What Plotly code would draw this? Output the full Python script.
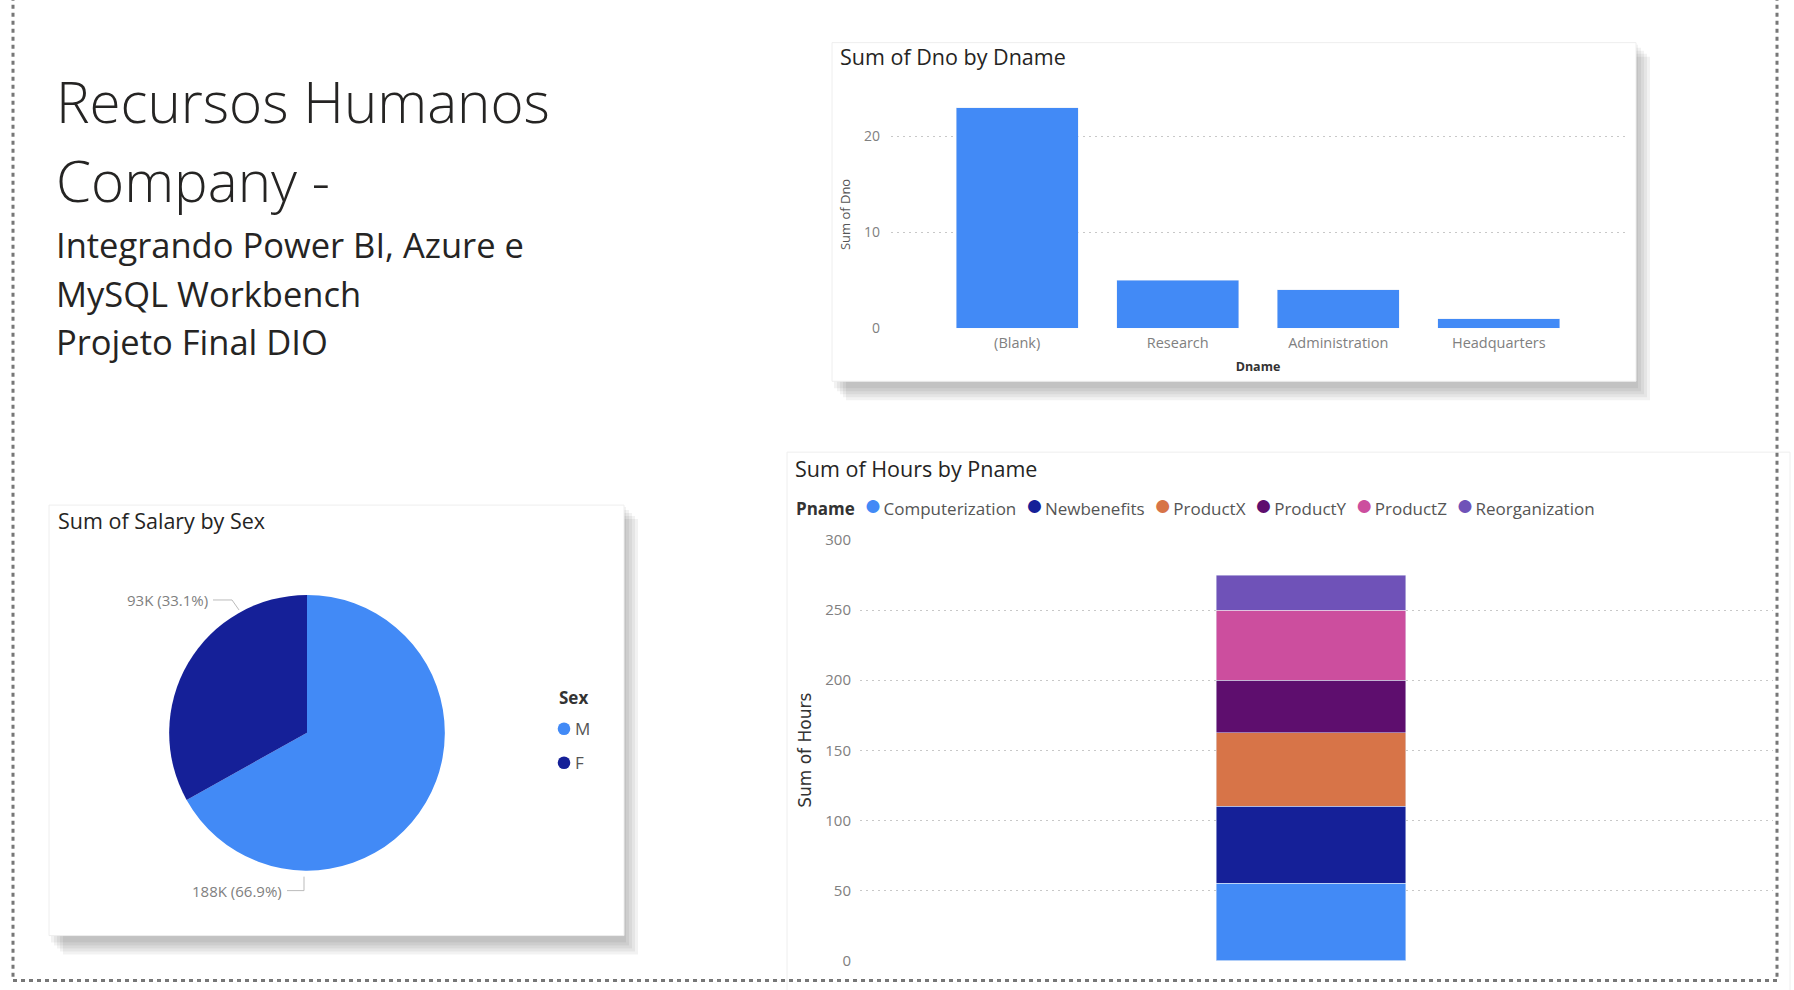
import plotly.graph_objects as go

W, H = 1794, 990

# ---------------- data ----------------
dept_names = ["(Blank)", "Research", "Administration", "Headquarters"]
dept_dno = [23, 5, 4, 1]

sex_labels = ["M", "F"]
sex_salary = [188000, 93000]

proj_names = ["Computerization", "Newbenefits", "ProductX", "ProductY", "ProductZ", "Reorganization"]
proj_hours = [55, 55, 52.5, 37.5, 50, 25]

title_lines = ["Recursos Humanos", "Company -"]
subtitle_lines = ["Integrando Power BI, Azure e", "MySQL Workbench", "Projeto Final DIO"]

# ---------------- styles ----------------
sex_colors = ["#428AF6", "#152098"]
proj_colors = ["#428AF6", "#152098", "#D77448", "#5E0E6E", "#CC4E9E", "#6F52B8"]
FONT = "Open Sans"
NBSP = "\u00a0"
HAIR = "\u200a"

# vertical calibration of the rendered page
Y_OFF, Y_SCALE = 10.3, 0.981


def px(x):
    return x / W


def py(y):
    return 1 - ((y - Y_OFF) / Y_SCALE) / H


fig = go.Figure()

# Bar chart: Sum of Dno by Dname
fig.add_trace(go.Bar(
    x=list(range(len(dept_names))), y=dept_dno, marker_color="#428AF6",
    width=0.76, showlegend=False, xaxis="x", yaxis="y",
    hovertemplate="%{customdata}: %{y}<extra></extra>", customdata=dept_names,
))

# Stacked bar: Sum of Hours by Pname
for name, val, col in zip(proj_names, proj_hours, proj_colors):
    fig.add_trace(go.Bar(
        x=[0], y=[val], name=name, marker_color=col, width=0.208,
        showlegend=False, xaxis="x2", yaxis="y2",
    ))

# Pie: Sum of Salary by Sex
fig.add_trace(go.Pie(
    labels=sex_labels, values=sex_salary, sort=False, direction="clockwise",
    rotation=0, marker=dict(colors=sex_colors), textinfo="none",
    showlegend=False,
    domain=dict(x=[px(169), px(445)], y=[py(871), py(595)]),
))

# ---------------- cards / frame shapes ----------------
shapes = []


def card(x0, y0, x1, y1, shadow=True):
    if shadow:
        for i in range(5):
            o = 2 + i * 3
            shapes.append(dict(type="rect", xref="paper", yref="paper",
                               x0=px(x0 + o), x1=px(x1 + o), y0=py(y1 + o + 5), y1=py(y0 + o),
                               fillcolor="rgba(0,0,0,0.05)", line=dict(width=0), layer="below"))
    shapes.append(dict(type="rect", xref="paper", yref="paper",
                       x0=px(x0), x1=px(x1), y0=py(y1), y1=py(y0),
                       fillcolor="white", line=dict(color="#EEEEEE", width=1), layer="below"))


card(832, 42, 1636, 381)
card(49, 505, 624, 936)
card(787, 452, 1790, 1010, shadow=False)

# dotted frame
for (x0, y0, x1, y1) in [(13, -20, 13, 981), (1777, -20, 1777, 981), (13, 981, 1777, 981)]:
    shapes.append(dict(type="line", xref="paper", yref="paper",
                       x0=px(x0), x1=px(x1), y0=py(y0), y1=py(y1),
                       line=dict(color="#777777", width=3, dash="4px,4px")))

# pie leader lines
shapes.append(dict(type="path", xref="paper", yref="paper",
                   path=f"M {px(213)} {py(600)} L {px(232)} {py(600)} L {px(239)} {py(610)}",
                   line=dict(color="#BBBBBB", width=1)))
shapes.append(dict(type="path", xref="paper", yref="paper",
                   path=f"M {px(287)} {py(891)} L {px(304)} {py(891)} L {px(304)} {py(877)}",
                   line=dict(color="#BBBBBB", width=1)))

# ---------------- annotations ----------------
ann = []
for txt, yc in zip(title_lines, [101, 180]):
    ann.append(dict(text=txt, x=px(54), y=py(yc), xref="paper", yref="paper",
                    xanchor="left", yanchor="middle", showarrow=False,
                    font=dict(family=FONT, size=56.5, color="#252423", weight=350)))
for txt, yc in zip(subtitle_lines, [244, 293, 341]):
    ann.append(dict(text=txt, x=px(54), y=py(yc), xref="paper", yref="paper",
                    xanchor="left", yanchor="middle", showarrow=False,
                    font=dict(family=FONT, size=34.5, color="#252423", weight=380)))

card_title_font = dict(family=FONT, size=21.5, color="#252423")
ann.append(dict(text="Sum of Dno by Dname", x=px(838), y=py(56), xref="paper", yref="paper",
                xanchor="left", yanchor="middle", showarrow=False, font=card_title_font))
ann.append(dict(text="Sum of Hours by Pname", x=px(793), y=py(468), xref="paper", yref="paper",
                xanchor="left", yanchor="middle", showarrow=False, font=card_title_font))
ann.append(dict(text="Sum of Salary by Sex", x=px(56), y=py(520), xref="paper", yref="paper",
                xanchor="left", yanchor="middle", showarrow=False, font=card_title_font))


def kfmt(v):
    return f"{round(v / 1000):.0f}K"


total = sum(sex_salary)
pie_label_pos = {"F": (210, 600), "M": (284, 891)}
for lab, val in zip(sex_labels, sex_salary):
    x, y = pie_label_pos[lab]
    ann.append(dict(text=f"{kfmt(val)} ({val / total * 100:.1f}%)", x=px(x), y=py(y),
                    xref="paper", yref="paper", xanchor="right", yanchor="middle", showarrow=False,
                    font=dict(family=FONT, size=15, color="#808080")))


def dot(col, size=30):
    return f"<span style='color:{col};font-size:{size}px'>●</span>"


# Pname legend (built from the project names and colours)
leg_parts = ["<span style='color:#333333'><b>Pname</b></span>"]
for name, col in zip(proj_names, proj_colors):
    leg_parts.append(f"{dot(col)}{HAIR}{name}")
ann.append(dict(text=(NBSP + NBSP).join(leg_parts), x=px(794), y=py(503), xref="paper", yref="paper",
                xanchor="left", yanchor="middle", showarrow=False,
                font=dict(family=FONT, size=17, color="#555555")))

# Sex legend: title, circle markers as shapes, labels as text
ann.append(dict(text="<b>Sex</b>", x=px(557), y=py(698), xref="paper", yref="paper",
                xanchor="left", yanchor="middle", showarrow=False,
                font=dict(family=FONT, size=17, color="#333333")))
R = 6.3
for lab, col, yc in zip(sex_labels, sex_colors, [729, 763]):
    shapes.append(dict(type="circle", xref="paper", yref="paper",
                       x0=px(564 - R), x1=px(564 + R), y0=py(yc + R), y1=py(yc - R),
                       fillcolor=col, line=dict(width=0)))
    ann.append(dict(text=lab, x=px(573), y=py(yc), xref="paper", yref="paper",
                    xanchor="left", yanchor="middle", showarrow=False,
                    font=dict(family=FONT, size=17, color="#555555")))

GRID = "#C8C8C8"
fig.update_layout(
    width=W, height=H, margin=dict(l=0, r=0, t=0, b=0),
    paper_bgcolor="white", plot_bgcolor="rgba(0,0,0,0)",
    barmode="stack", shapes=shapes, annotations=ann, showlegend=False,
    font=dict(family=FONT, color="#666666"),
    xaxis=dict(domain=[px(891), px(1625)], range=[-0.786, 3.786],
               tickmode="array", tickvals=list(range(len(dept_names))), ticktext=dept_names,
               showgrid=False, zeroline=False, showline=False, ticks="", ticklabelstandoff=4,
               tickfont=dict(size=14.5, color="#808080"),
               title=dict(text="Dname", font=dict(size=12.5, color="#333333", weight="bold"), standoff=11),
               fixedrange=True),
    yaxis=dict(domain=[py(328), py(100)], range=[0, 23.75], tickvals=[0, 10, 20],
               showgrid=True, gridcolor=GRID, griddash="2px,4px", gridwidth=1,
               zeroline=False, showline=False, ticks="", ticklabelstandoff=10,
               tickfont=dict(size=14, color="#808080"),
               title=dict(text="Sum of Dno", font=dict(size=13, color="#555555"), standoff=10),
               fixedrange=True),
    xaxis2=dict(domain=[px(860), px(1773)], range=[-0.494, 0.506], visible=False,
                anchor="y2", fixedrange=True),
    yaxis2=dict(domain=[py(961), py(540)], range=[0, 300], tickvals=[0, 50, 100, 150, 200, 250, 300],
                anchor="x2", showgrid=True, gridcolor=GRID, griddash="2px,4px", gridwidth=1,
                zeroline=False, showline=False, ticks="", ticklabelstandoff=8,
                tickfont=dict(size=15, color="#808080"),
                title=dict(text="Sum of Hours", font=dict(family="DejaVu Sans", size=17, color="#333333"),
                           standoff=9),
                fixedrange=True),
)

fig.write_html(
    "out.html",
    post_script="document.body.style.margin='0';document.body.style.padding='0';"
                "document.body.style.overflow='hidden';",
)
